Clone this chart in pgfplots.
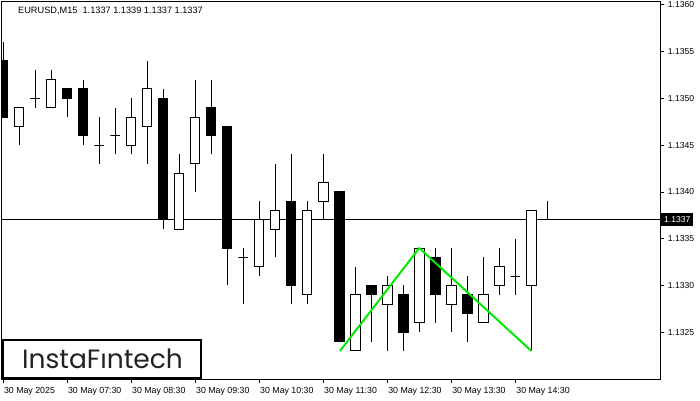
\documentclass[border=0pt]{standalone}
\usepackage{pgfplots}
\pgfplotsset{compat=1.18}
\usepackage{fontspec}
\setmainfont{Liberation Sans}
\newfontfamily\logofont{Poppins}
\definecolor{patgreen}{RGB}{0,235,0}
\definecolor{logogray}{RGB}{34,34,34}

% candle macro: index, Open, High, Low, Close, body fill
\newcommand{\candle}[6]{%
  \pgfmathsetmacro{\xl}{#1-0.3}\pgfmathsetmacro{\xr}{#1+0.3}%
  \addplot[black, line width=1pt] coordinates {(#1,#4) (#1,#3)};
  \edef\tmpbody{\noexpand\addplot[draw=black, fill=#6, line width=1pt] coordinates {(\xl,#2) (\xr,#2) (\xr,#5) (\xl,#5)} -- cycle;}%
  \tmpbody
}

\begin{document}
\begin{tikzpicture}
\begin{axis}[
  at={(2pt,21pt)}, anchor=south west,
  scale only axis, width=658pt, height=377pt,
  xmin=-0.0625, xmax=41.0625, ymin=1.1320, ymax=1.13603,
  axis line style={line width=1pt},
  xtick={0,4,8,12,16,20,24,28,32},
  xticklabels={30 May 2025,30 May 07:30,30 May 08:30,30 May 09:30,30 May 10:30,30 May 11:30,30 May 12:30,30 May 13:30,30 May 14:30},
  ytick={1.1325,1.1330,1.1335,1.1340,1.1345,1.1350,1.1355,1.1360},
  yticklabels={1.1325,1.1330,1.1335,1.1340,1.1345,1.1350,1.1355,1.1360},
  scaled y ticks=false,
  xtick pos=bottom, ytick pos=right, tick align=outside,
  major tick length=4pt, tick style={black, line width=0.8pt},
  xticklabel style={anchor=north west, xshift=-2.5pt, yshift=-0.5pt, font=\fontsize{8.8}{10}\selectfont},
  yticklabel style={anchor=west, font=\fontsize{8.6}{10}\selectfont},
  /pgf/number format/assume math mode=true,
]
% current price line
\addplot[black, line width=1pt] coordinates {(-0.0625,1.1337) (41.0625,1.1337)};
\coordinate (pl) at (axis cs:41.0625,1.1337);
% candles: index, O, H, L, C
\candle{0}{1.1354}{1.1356}{1.1348}{1.1348}{black}
\candle{1}{1.1347}{1.1349}{1.1345}{1.1349}{white}
\candle{2}{1.1350}{1.1353}{1.1349}{1.1350}{white}
\candle{3}{1.1349}{1.1353}{1.1349}{1.1352}{white}
\candle{4}{1.1351}{1.1351}{1.1348}{1.1350}{black}
\candle{5}{1.1351}{1.1352}{1.1345}{1.1346}{black}
\candle{6}{1.1345}{1.1348}{1.1343}{1.1345}{white}
\candle{7}{1.1346}{1.1349}{1.1344}{1.1346}{white}
\candle{8}{1.1345}{1.1350}{1.1344}{1.1348}{white}
\candle{9}{1.1347}{1.1354}{1.1343}{1.1351}{white}
\candle{10}{1.1350}{1.1351}{1.1336}{1.1337}{black}
\candle{11}{1.1336}{1.1344}{1.1336}{1.1342}{white}
\candle{12}{1.1343}{1.1352}{1.1340}{1.1348}{white}
\candle{13}{1.1349}{1.1352}{1.1344}{1.1346}{black}
\candle{14}{1.1347}{1.1347}{1.1330}{1.1334}{black}
\candle{15}{1.1333}{1.1334}{1.1328}{1.1333}{white}
\candle{16}{1.1332}{1.1339}{1.1331}{1.1337}{white}
\candle{17}{1.1336}{1.1343}{1.1333}{1.1338}{white}
\candle{18}{1.1339}{1.1344}{1.1328}{1.1330}{black}
\candle{19}{1.1329}{1.1339}{1.1328}{1.1338}{white}
\candle{20}{1.1339}{1.1344}{1.1337}{1.1341}{white}
\candle{21}{1.1340}{1.1340}{1.1324}{1.1324}{black}
\candle{22}{1.1323}{1.1332}{1.1323}{1.1329}{white}
\candle{23}{1.1330}{1.1330}{1.1324}{1.1329}{black}
\candle{24}{1.1328}{1.1331}{1.1323}{1.1330}{white}
\candle{25}{1.1329}{1.1330}{1.1323}{1.1325}{black}
\candle{26}{1.1326}{1.1334}{1.1325}{1.1334}{white}
\candle{27}{1.1333}{1.1334}{1.1326}{1.1329}{black}
\candle{28}{1.1328}{1.1334}{1.1325}{1.1330}{white}
\candle{29}{1.1329}{1.1331}{1.1324}{1.1327}{black}
\candle{30}{1.1326}{1.1333}{1.1326}{1.1329}{white}
\candle{31}{1.1330}{1.1334}{1.1329}{1.1332}{white}
\candle{32}{1.1331}{1.1335}{1.1329}{1.1331}{white}
\candle{33}{1.1330}{1.1338}{1.1323}{1.1338}{white}
\candle{34}{1.1337}{1.1339}{1.1337}{1.1337}{white}
% double top / bottom pattern line
\addplot[patgreen, line width=2pt, line join=round] coordinates {(21.05,1.1323) (26,1.1334) (33,1.1323)};
\end{axis}
% price label
\node[fill=black, text=white, anchor=west, inner xsep=3pt, inner ysep=0pt, minimum height=13pt, font=\fontsize{8.6}{10}\selectfont] at ([xshift=0.5pt]pl) {1.1337};
% title
\node[anchor=west, inner sep=0pt, font=\fontsize{9.2}{11}\selectfont] at (18pt,389pt) {EURUSD,M15\ \ 1.1337 1.1339 1.1337 1.1337};
% logo
\draw[line width=2pt, fill=white] (2.7pt,22pt) rectangle (201pt,60pt);
\node[text=logogray, font=\logofont\fontsize{26.5}{30}\selectfont, inner sep=0pt] at (102.5pt,41pt) {InstaF\char"0131 ntech};
\pgfresetboundingbox
\path[use as bounding box] (0,0) rectangle (700pt,400pt);
\end{tikzpicture}
\end{document}
